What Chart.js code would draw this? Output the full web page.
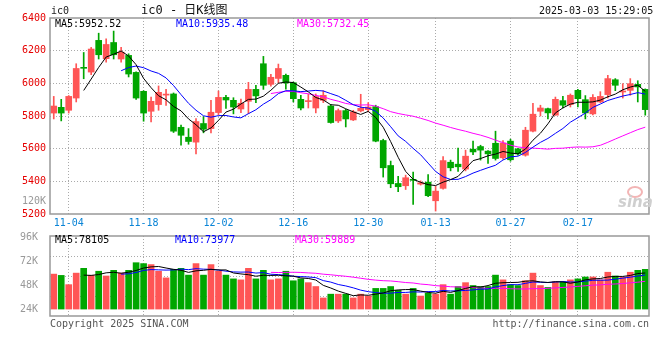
<!DOCTYPE html>
<html>
<head>
<meta charset="utf-8">
<script src="https://cdn.jsdelivr.net/npm/chart.js@4.4.1/dist/chart.umd.min.js"></script>
<style>
  body { margin: 0; background: #fff; }
  #wrap { position: relative; width: 660px; height: 360px; overflow: hidden; font-family: 'DejaVu Sans Mono', monospace; font-size: 10px; }
  #wrap canvas { position: absolute; left: 0; }
  .t { position: absolute; white-space: nowrap; line-height: 1; }
</style>
</head>
<body>
<div id="wrap">
  <canvas id="priceChart" width="660" height="232" style="top:0"></canvas>
  <canvas id="volChart" width="660" height="100" style="top:226px"></canvas>

  <div class="t" style="left:51px;top:6px;color:#222">ic0</div>
  <div class="t" style="left:141px;top:4px;font-size:12px;color:#111;font-family:'DejaVu Sans Mono','Noto Sans CJK SC',monospace">ic0 - 日K线图</div>
  <div class="t" style="left:539px;top:6px;color:#111">2025-03-03 15:29:05</div>

  <div class="t" style="left:55px;top:19px;color:#000">MA5:5952.52</div>
  <div class="t" style="left:176px;top:19px;color:#0000ff">MA10:5935.48</div>
  <div class="t" style="left:297px;top:19px;color:#ff00ff">MA30:5732.45</div>

  <div class="t" style="right:614px;top:196px;color:#999">120K</div>

  <div class="t" style="left:55px;top:235px;color:#000">MA5:78105</div>
  <div class="t" style="left:175px;top:235px;color:#0000ff">MA10:73977</div>
  <div class="t" style="left:295px;top:235px;color:#ff00ff">MA30:59889</div>

  <div class="t" style="left:50px;top:319px;color:#555">Copyright 2025 SINA.COM</div>
  <div class="t" style="right:11px;top:319px;color:#555">http://finance.sina.com.cn</div>

  <div class="t" style="left:627px;top:186px;width:12px;height:8px;border:2px solid #f3b5b5;border-radius:50%"></div>
  <div class="t" style="left:618px;top:193px;font:italic bold 15px 'DejaVu Sans',sans-serif;color:#cfcfcf">sina</div>
</div>

<script>
// trading days shown (80 candles)
const dates = [
  '10-31','11-01','11-04','11-05','11-06','11-07','11-08','11-11','11-12','11-13',
  '11-14','11-15','11-18','11-19','11-20','11-21','11-22','11-25','11-26','11-27',
  '11-28','11-29','12-02','12-03','12-04','12-05','12-06','12-09','12-10','12-11',
  '12-12','12-13','12-16','12-17','12-18','12-19','12-20','12-23','12-24','12-25',
  '12-26','12-27','12-30','12-31','01-02','01-03','01-06','01-07','01-08','01-09',
  '01-10','01-13','01-14','01-15','01-16','01-17','01-20','01-21','01-22','01-23',
  '01-24','01-27','02-05','02-06','02-07','02-10','02-11','02-12','02-13','02-14',
  '02-17','02-18','02-19','02-20','02-21','02-24','02-25','02-26','02-27','02-28'
];
const tickDates = ['11-04', '11-18', '12-02', '12-16', '12-30', '01-13', '01-27', '02-17'];

const opens = [
  5818, 5853, 5835, 5910, 6096, 6069, 6263, 6151, 6250, 6149,
  6171, 6067, 5951, 5829, 5870, 5928, 5935, 5731, 5670, 5640,
  5754, 5723, 5821, 5914, 5896, 5843, 5890, 5963, 6120, 5994,
  6030, 6049, 6004, 5902, 5888, 5849, 5896, 5861, 5770, 5833,
  5776, 5831, 5839, 5857, 5650, 5497, 5387, 5373, 5409, 5383,
  5395, 5281, 5357, 5517, 5505, 5475, 5597, 5613, 5585, 5633,
  5544, 5646, 5599, 5560, 5707, 5829, 5845, 5805, 5894, 5870,
  5957, 5900, 5813, 5886, 5931, 6022, 5947, 5957, 5994, 5963
];
const highs = [
  5920, 5902, 5925, 6120, 6189, 6220, 6307, 6273, 6320, 6220,
  6181, 6070, 5955, 5916, 5984, 5963, 5941, 5745, 5723, 5784,
  5796, 5896, 5953, 5927, 5912, 5904, 6006, 5988, 6165, 6055,
  6118, 6057, 6008, 5927, 5933, 5935, 5955, 5870, 5843, 5841,
  5835, 5933, 5882, 5866, 5658, 5524, 5430, 5438, 5456, 5403,
  5442, 5369, 5552, 5530, 5603, 5591, 5646, 5621, 5588, 5707,
  5650, 5658, 5602, 5731, 5878, 5866, 5848, 5916, 5920, 5935,
  5963, 5925, 5931, 5949, 6049, 6029, 5998, 6029, 6016, 5966
];
const lows = [
  5782, 5770, 5818, 5886, 6028, 6053, 6149, 6130, 6149, 6130,
  6039, 5902, 5768, 5764, 5835, 5865, 5699, 5621, 5627, 5568,
  5697, 5697, 5807, 5847, 5813, 5821, 5815, 5882, 5963, 5982,
  6004, 5965, 5886, 5837, 5849, 5819, 5882, 5756, 5760, 5733,
  5772, 5825, 5825, 5642, 5426, 5361, 5336, 5350, 5259, 5377,
  5306, 5218, 5352, 5464, 5460, 5464, 5564, 5530, 5509, 5530,
  5536, 5523, 5560, 5554, 5703, 5800, 5782, 5805, 5849, 5855,
  5855, 5782, 5807, 5882, 5910, 5955, 5910, 5927, 5886, 5805
];
const closes = [
  5861, 5818, 5920, 6091, 6092, 6210, 6175, 6238, 6175, 6191,
  6057, 5910, 5818, 5890, 5945, 5933, 5707, 5682, 5644, 5766,
  5719, 5823, 5914, 5898, 5855, 5878, 5963, 5923, 5988, 6037,
  6091, 6002, 5906, 5849, 5890, 5919, 5927, 5760, 5833, 5782,
  5825, 5847, 5855, 5646, 5483, 5385, 5367, 5422, 5406, 5391,
  5312, 5340, 5527, 5483, 5489, 5554, 5580, 5591, 5568, 5540,
  5635, 5532, 5568, 5713, 5811, 5849, 5819, 5902, 5866, 5927,
  5906, 5819, 5914, 5920, 6029, 5988, 5951, 5998, 5978, 5839
];
// volume as read against the panel's own axis labels
const volumes = [
  59200, 57900, 48600, 60200, 65000, 57900, 62100, 57300, 63000, 60200,
  63000, 70700, 69800, 68800, 62100, 55400, 64000, 65000, 58200, 69800,
  58200, 68800, 62100, 58200, 54400, 53400, 65000, 54400, 63000, 53400,
  54400, 62100, 52500, 54400, 50600, 46700, 35200, 39000, 39000, 39000,
  35200, 39000, 37100, 44800, 44800, 46700, 42900, 39000, 44800, 37100,
  40000, 39000, 48600, 39000, 46700, 50600, 47700, 46700, 46700, 58200,
  53400, 48600, 47700, 52500, 60200, 47700, 45800, 51500, 51500, 53400,
  54400, 56300, 56300, 53400, 61100, 57300, 56300, 61100, 63000, 64000
];
const priceTicks = [5200, 5400, 5600, 5800, 6000, 6200, 6400];
const volTicks = [24000, 48000, 72000, 96000];

const RED = '#ff5555', GREEN = '#00a600';
const FONT = { family: "'DejaVu Sans Mono', monospace", size: 10 };

// moving averages over the visible candles, as the chart's MA lines
function movingAvg(src, n) {
  return src.map((_, i) => i < n - 1 ? null : src.slice(i - n + 1, i + 1).reduce((s, v) => s + v, 0) / n);
}

const candleColors = closes.map((c, i) => c >= opens[i] ? RED : GREEN);
const isTick = i => tickDates.includes(dates[i]);

const frame = {
  id: 'frame',
  beforeDatasetsDraw(chart, args, opts) {
    if (!opts.quarters) return;
    const { ctx, chartArea: a } = chart;
    ctx.save();
    ctx.strokeStyle = '#aaa';
    ctx.lineWidth = 1;
    ctx.setLineDash([1, 2]);
    for (let k = 1; k < 4; k++) {
      const y = Math.round(a.top + (a.bottom - a.top) * k / 4) + 0.5;
      ctx.beginPath();
      ctx.moveTo(a.left, y);
      ctx.lineTo(a.right, y);
      ctx.stroke();
    }
    ctx.restore();
  },
  afterDraw(chart) {
    const { ctx, chartArea: a } = chart;
    ctx.save();
    ctx.strokeStyle = '#999';
    ctx.lineWidth = 1.5;
    ctx.strokeRect(a.left, a.top, a.right - a.left, a.bottom - a.top);
    ctx.restore();
  }
};

const xGrid = {
  offset: false,
  drawTicks: false,
  color: ctx => isTick(ctx.index) ? '#aaa' : 'rgba(0,0,0,0)'
};

const maLine = (data, color) => ({
  type: 'line', data, borderColor: color, borderWidth: 1,
  pointRadius: 0, tension: 0, order: 0
});

new Chart(document.getElementById('priceChart'), {
  type: 'bar',
  data: {
    labels: dates,
    datasets: [
      maLine(movingAvg(closes, 5), '#000'),
      maLine(movingAvg(closes, 10), '#0000ff'),
      maLine(movingAvg(closes, 30), '#ff00ff'),
      {
        data: dates.map((_, i) => [opens[i], closes[i]]),
        backgroundColor: candleColors, barThickness: 6, minBarLength: 1,
        grouped: false, order: 1
      },
      {
        data: dates.map((_, i) => [lows[i], highs[i]]),
        backgroundColor: candleColors, barThickness: 1,
        grouped: false, order: 2
      }
    ]
  },
  options: {
    responsive: false,
    animation: false,
    layout: { padding: { top: 18, right: 11, left: 0, bottom: 0 } },
    plugins: { legend: { display: false }, tooltip: { enabled: false }, frame: {} },
    scales: {
      x: {
        offset: true,
        grid: xGrid,
        border: { display: false, dash: [1, 2] },
        ticks: {
          autoSkip: false, maxRotation: 0, padding: 3, color: '#0a84d6', font: FONT,
          callback: (v, i) => isTick(i) ? dates[i] : ''
        },
        afterFit: s => { s.height = 18; }
      },
      y: {
        min: 5200, max: 6400,
        afterBuildTicks: s => { s.ticks = priceTicks.map(value => ({ value })); },
        grid: {
          drawTicks: false,
          color: ctx => (ctx.tick && (ctx.tick.value === 5200 || ctx.tick.value === 6400)) ? 'rgba(0,0,0,0)' : '#aaa'
        },
        border: { display: false, dash: [1, 2] },
        ticks: { color: '#e60000', font: FONT, padding: 4, callback: v => String(v) },
        afterFit: s => { s.width = 50; }
      }
    }
  },
  plugins: [frame]
});

new Chart(document.getElementById('volChart'), {
  type: 'bar',
  data: {
    labels: dates,
    datasets: [
      maLine(movingAvg(volumes, 5), '#000'),
      maLine(movingAvg(volumes, 10), '#0000ff'),
      maLine(movingAvg(volumes, 30), '#ff00ff'),
      {
        data: volumes, base: 24000,
        backgroundColor: candleColors, barThickness: 6, order: 1
      }
    ]
  },
  options: {
    responsive: false,
    animation: false,
    layout: { padding: { top: 8, right: 11, left: 0, bottom: 8 } },
    plugins: { legend: { display: false }, tooltip: { enabled: false }, frame: { quarters: true } },
    scales: {
      x: {
        offset: true,
        grid: xGrid,
        border: { display: false, dash: [1, 2] },
        ticks: { display: false },
        afterFit: s => { s.height = 0; }
      },
      y: {
        min: 17000, max: 97600,
        afterBuildTicks: s => { s.ticks = volTicks.map(value => ({ value })); },
        grid: { display: false },
        border: { display: false },
        ticks: { color: '#999', font: FONT, padding: 4, callback: v => (v / 1000) + 'K' },
        afterFit: s => { s.width = 50; }
      }
    }
  },
  plugins: [frame]
});
</script>
</body>
</html>
